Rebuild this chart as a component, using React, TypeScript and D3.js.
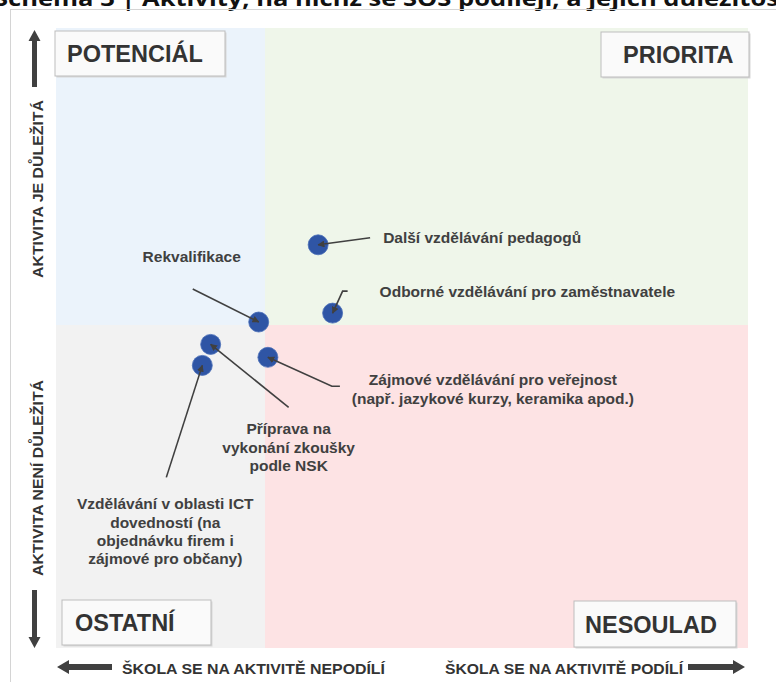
import React from "react";
import * as d3 from "d3";

// activities and where they sit: participation (x) vs importance (y), 0 = quadrant split
const activities = [
  "Další vzdělávání pedagogů",
  "Odborné vzdělávání pro zaměstnavatele",
  "Rekvalifikace",
  "Příprava na vykonání zkoušky podle NSK",
  "Zájmové vzdělávání pro veřejnost",
  "Vzdělávání v oblasti ICT",
];
const participation = [0.11, 0.14, -0.03, -0.26, 0.006, -0.3];
const importance = [0.27, 0.04, 0.01, -0.06, -0.1, -0.125];
const labelLines = [
  ["Další vzdělávání pedagogů"],
  ["Odborné vzdělávání pro zaměstnavatele"],
  ["Rekvalifikace"],
  ["Příprava na", "vykonání zkoušky", "podle NSK"],
  ["Zájmové vzdělávání pro veřejnost", "(např. jazykové kurzy, keramika apod.)"],
  ["Vzdělávání v oblasti ICT", "dovedností (na", "objednávku firem i", "zájmové pro občany)"],
];
const quadrantNames = ["POTENCIÁL", "PRIORITA", "OSTATNÍ", "NESOULAD"];
const yAxisLabels = ["AKTIVITA JE DŮLEŽITÁ", "AKTIVITA NENÍ DŮLEŽITÁ"];
const xAxisLabels = ["ŠKOLA SE NA AKTIVITĚ NEPODÍLÍ", "ŠKOLA SE NA AKTIVITĚ PODÍLÍ"];
const title = "Schéma 3 | Aktivity, na nichž se ŠOŠ podílejí, a jejich důležitost";

// label layout, offsets from the dot
const labelLayout = [
  { anchor: "start", dx: 65, dy: -2, leader: [[52, -7]] },
  { anchor: "start", dx: 47, dy: -16, leader: [[15, -22], [10, -22]] },
  { anchor: "middle", dx: -67, dy: -60, leader: [[-66, -33]] },
  { anchor: "middle", dx: 78, dy: 90, leader: [[78, 63]] },
  { anchor: "middle", dx: 225, dy: 28, leader: [[72, 29], [64, 29]] },
  { anchor: "middle", dx: -37, dy: 144, leader: [[-36, 112]] },
];

const W = 776, H = 682;
const left = 56, right = 748, top = 28, bottom = 648;
const x = d3.scaleLinear().domain([-1, 0, 1]).range([left, 265, right]);
const y = d3.scaleLinear().domain([-1, 0, 1]).range([bottom, 325, top]);

const dark = "#404040";
const sans = "'Liberation Sans', Arial, sans-serif";

function QuadBox({ x0, y0, w, h, text, tx }: any) {
  return (
    <g>
      <rect x={x0 + 1.5} y={y0 + 1.5} width={w} height={h} fill="#d8d8d8" />
      <rect x={x0} y={y0} width={w} height={h} fill="#fafafa" stroke="#bdbdbd" strokeWidth={1} />
      <text x={tx} y={y0 + h / 2 + 8.5} fontFamily={sans} fontWeight="bold" fontSize={23.5} fill="#333">
        {text}
      </text>
    </g>
  );
}

export default function App() {
  const line = d3.line();
  const x0 = x(0), y0 = y(0);
  const arrowV = (cx: number, tip: number, end: number) => {
    const dir = Math.sign(end - tip);
    return `M${cx},${tip} L${cx + 6},${tip + dir * 11} L${cx + 2.5},${tip + dir * 11} L${cx + 2.5},${end} L${cx - 2.5},${end} L${cx - 2.5},${tip + dir * 11} L${cx - 6},${tip + dir * 11} Z`;
  };
  const arrowH = (cy: number, tip: number, end: number) => {
    const dir = Math.sign(end - tip);
    return `M${tip},${cy} L${tip + dir * 12},${cy - 7} L${tip + dir * 12},${cy - 3} L${end},${cy - 3} L${end},${cy + 3} L${tip + dir * 12},${cy + 3} L${tip + dir * 12},${cy + 7} Z`;
  };
  return (
    <svg width={W} height={H} style={{ position: "absolute", left: 0, top: 0, background: "#fff" }}>
      <defs>
        <marker id="ah" viewBox="0 0 10 10" refX="9" refY="5" markerWidth="7" markerHeight="7" markerUnits="userSpaceOnUse" orient="auto">
          <path d="M0,0 L10,5 L0,10 Z" fill={dark} />
        </marker>
      </defs>
      <text x={-6} y={6} fontFamily="'Open Sans', sans-serif" fontWeight="bold" fontSize={22} fill="#111" textLength={796} lengthAdjust="spacingAndGlyphs">
        {title}
      </text>
      <rect x={10.5} y={9.5} width={W} height={H} fill="none" stroke="#d4d4d4" />

      {/* quadrants */}
      <rect x={left} y={top} width={x0 - left} height={y0 - top} fill="#ebf3fb" />
      <rect x={x0} y={top} width={right - x0} height={y0 - top} fill="#eff6ea" />
      <rect x={left} y={y0} width={x0 - left} height={bottom - y0} fill="#f2f2f2" />
      <rect x={x0} y={y0} width={right - x0} height={bottom - y0} fill="#fde3e4" />

      <QuadBox x0={55} y0={31} w={170} h={45} text={quadrantNames[0]} tx={67} />
      <QuadBox x0={601} y0={32} w={148} h={45} text={quadrantNames[1]} tx={623} />
      <QuadBox x0={62} y0={600} w={149} h={45} text={quadrantNames[2]} tx={75} />
      <QuadBox x0={574} y0={601} w={162} h={46} text={quadrantNames[3]} tx={585} />

      {/* axis arrows and labels */}
      <path d={arrowV(34.5, 30, 87)} fill={dark} />
      <path d={arrowV(34.5, 648, 590)} fill={dark} />
      <path d={arrowH(667, 57, 112)} fill={dark} />
      <path d={arrowH(667, 745, 688)} fill={dark} />
      {yAxisLabels.map((t, i) => (
        <text key={t} transform={`translate(43,${i === 0 ? 189 : 478}) rotate(-90)`} textAnchor="middle"
          fontFamily={sans} fontWeight="bold" fontSize={15} fill="#333" textLength={i === 0 ? 178 : 196} lengthAdjust="spacingAndGlyphs">
          {t}
        </text>
      ))}
      <text x={122} y={674} fontFamily={sans} fontWeight="bold" fontSize={15.5} fill="#333" textLength={263} lengthAdjust="spacingAndGlyphs">
        {xAxisLabels[0]}
      </text>
      <text x={445} y={674} fontFamily={sans} fontWeight="bold" fontSize={15.5} fill="#333" textLength={238} lengthAdjust="spacingAndGlyphs">
        {xAxisLabels[1]}
      </text>

      {/* dots */}
      {activities.map((a, i) => (
        <circle key={a} cx={x(participation[i])} cy={y(importance[i])} r={10} fill="#2f55a5" stroke="#4a6fb8" strokeWidth={0.8} />
      ))}

      {/* leaders and labels */}
      {activities.map((a, i) => {
        const px = x(participation[i]), py = y(importance[i]);
        const L = labelLayout[i];
        const pts: [number, number][] = L.leader.map(([dx, dy]) => [px + dx, py + dy] as [number, number]);
        pts.push([px, py]);
        return (
          <g key={a}>
            <path d={line(pts) || ""} fill="none" stroke={dark} strokeWidth={1.6} markerEnd="url(#ah)" />
            <text x={px + L.dx} y={py + L.dy} textAnchor={L.anchor} fontFamily={sans} fontWeight="bold" fontSize={15.5} fill={dark}>
              {labelLines[i].map((t, j) => (
                <tspan key={j} x={px + L.dx} dy={j === 0 ? 0 : 18.3}>{t}</tspan>
              ))}
            </text>
          </g>
        );
      })}
    </svg>
  );
}
